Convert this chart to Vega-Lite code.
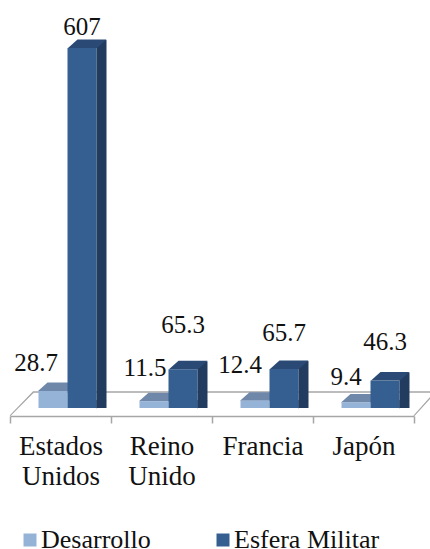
{"$schema":"https://vega.github.io/schema/vega-lite/v6.json","width":404,"height":408,"padding":{"left":10,"top":0,"right":16,"bottom":141},"autosize":{"type":"none"},"background":"white","config":{"view":{"stroke":null},"font":"Liberation Serif"},
"data":{"values":[
{"pais":"Estados Unidos","serie":"Desarrollo","valor":28.7},{"pais":"Estados Unidos","serie":"Esfera Militar","valor":607},
{"pais":"Reino Unido","serie":"Desarrollo","valor":11.5},{"pais":"Reino Unido","serie":"Esfera Militar","valor":65.3},
{"pais":"Francia","serie":"Desarrollo","valor":12.4},{"pais":"Francia","serie":"Esfera Militar","valor":65.7},
{"pais":"Japón","serie":"Desarrollo","valor":9.4},{"pais":"Japón","serie":"Esfera Militar","valor":46.3}]},
"encoding":{"x":{"field":"pais","type":"nominal","sort":null,"scale":{"domain":["Estados Unidos","Reino Unido","Francia","Japón"],"paddingInner":0,"paddingOuter":0},"axis":{"title":null,"offset":8,"domainColor":"#A6A6A6","domainWidth":1.5,"tickColor":"#A6A6A6","tickWidth":1.5,"tickSize":7,"tickBand":"extent","grid":false,"labelAngle":0,"labelFont":"Liberation Serif","labelFontSize":27,"labelColor":"#111111","labelPadding":10,"labelLineHeight":30,"labelLimit":0,"labelBaseline":"top","labelOverlap":false,"labelFlush":false,"labelExpr":"split(datum.label,' ')"}},
"y":{"field":"valor","type":"quantitative","stack":null,"scale":{"domain":[0,688],"nice":false,"zero":true},"axis":null}},
"layer":[
{"transform":[{"filter":{"and":[{"field":"pais","equal":"Estados Unidos"},{"field":"serie","equal":"Desarrollo"}]}}],"mark":{"type":"point","filled":true,"fill":"#A6A6A6","size":4,"opacity":1,"strokeWidth":0,"shape":"M-50.9,7.5L-27.4,-16.7L375,-16.7L375,-15.3L-26.8,-15.3L-50,8L-50.9,7.5ZM353,7.5L374,-16L375,-15L354,8Z"},"encoding":{"y":{"datum":0}}},
{"transform":[{"filter":{"field":"serie","equal":"Desarrollo"}}],"mark":{"type":"point","filled":true,"size":4,"fill":"#6F87A8","opacity":1,"strokeWidth":0,"shape":"M-22.5,0L7.5,0L17,-8.5L-13,-8.5Z"}},
{"mark":{"type":"bar","stroke":null},"encoding":{"xOffset":{"field":"serie","type":"nominal","scale":{"domain":["Desarrollo","Esfera Militar"],"range":[7,108],"paddingInner":0,"paddingOuter":0.741}},"color":{"field":"serie","type":"nominal","scale":{"domain":["Desarrollo","Esfera Militar"],"range":["#95B3D7","#355F91"]},"legend":{"orient":"none","legendX":7,"legendY":527,"direction":"horizontal","title":null,"symbolType":"square","symbolSize":169,"symbolStrokeWidth":0,"symbolOpacity":1,"labelFont":"Liberation Serif","labelFontSize":26,"labelColor":"#111111","labelOffset":-2,"columnPadding":59,"labelLimit":0}}}},
{"transform":[{"filter":{"field":"serie","equal":"Esfera Militar"}}],"mark":{"type":"bar","width":10,"xOffset":41,"yOffset":-8,"y2Offset":-8,"fill":"#213C5F"}},
{"transform":[{"filter":{"field":"serie","equal":"Esfera Militar"}}],"mark":{"type":"point","filled":true,"size":4,"fill":"#2A4A75","opacity":1,"strokeWidth":0,"shape":"M7.5,0L36.5,0L46,-8.5L17,-8.5Z"}},
{"transform":[{"filter":{"field":"serie","equal":"Esfera Militar"}}],"mark":{"type":"point","filled":true,"size":4,"fill":"#213C5F","opacity":1,"strokeWidth":0,"shape":"M36,0.5L46,-8L36,-8Z"},"encoding":{"y":{"datum":0}}},
{"transform":[{"filter":{"and":[{"field":"pais","equal":"Estados Unidos"},{"field":"serie","equal":"Esfera Militar"}]}}],"mark":{"type":"text","fontSize":25,"color":"#111111","dx":21.5,"dy":-21},"encoding":{"text":{"field":"valor","type":"quantitative"}}},
{"transform":[{"filter":{"and":[{"field":"pais","equal":"Estados Unidos"},{"field":"serie","equal":"Desarrollo"}]}}],"mark":{"type":"text","fontSize":25,"color":"#111111","dx":-24.5,"dy":-28},"encoding":{"text":{"field":"valor","type":"quantitative"}}},
{"transform":[{"filter":{"and":[{"field":"pais","equal":"Reino Unido"},{"field":"serie","equal":"Esfera Militar"}]}}],"mark":{"type":"text","fontSize":25,"color":"#111111","dx":21.5,"dy":-44},"encoding":{"text":{"field":"valor","type":"quantitative"}}},
{"transform":[{"filter":{"and":[{"field":"pais","equal":"Reino Unido"},{"field":"serie","equal":"Desarrollo"}]}}],"mark":{"type":"text","fontSize":25,"color":"#111111","dx":-16.5,"dy":-33},"encoding":{"text":{"field":"valor","type":"quantitative"}}},
{"transform":[{"filter":{"and":[{"field":"pais","equal":"Francia"},{"field":"serie","equal":"Esfera Militar"}]}}],"mark":{"type":"text","fontSize":25,"color":"#111111","dx":21.5,"dy":-36},"encoding":{"text":{"field":"valor","type":"quantitative"}}},
{"transform":[{"filter":{"and":[{"field":"pais","equal":"Francia"},{"field":"serie","equal":"Desarrollo"}]}}],"mark":{"type":"text","fontSize":25,"color":"#111111","dx":-22.5,"dy":-36},"encoding":{"text":{"field":"valor","type":"quantitative"}}},
{"transform":[{"filter":{"and":[{"field":"pais","equal":"Japón"},{"field":"serie","equal":"Esfera Militar"}]}}],"mark":{"type":"text","fontSize":25,"color":"#111111","dx":21.5,"dy":-38.5},"encoding":{"text":{"field":"valor","type":"quantitative"}}},
{"transform":[{"filter":{"and":[{"field":"pais","equal":"Japón"},{"field":"serie","equal":"Desarrollo"}]}}],"mark":{"type":"text","fontSize":25,"color":"#111111","dx":-17.5,"dy":-25},"encoding":{"text":{"field":"valor","type":"quantitative"}}}
]}
